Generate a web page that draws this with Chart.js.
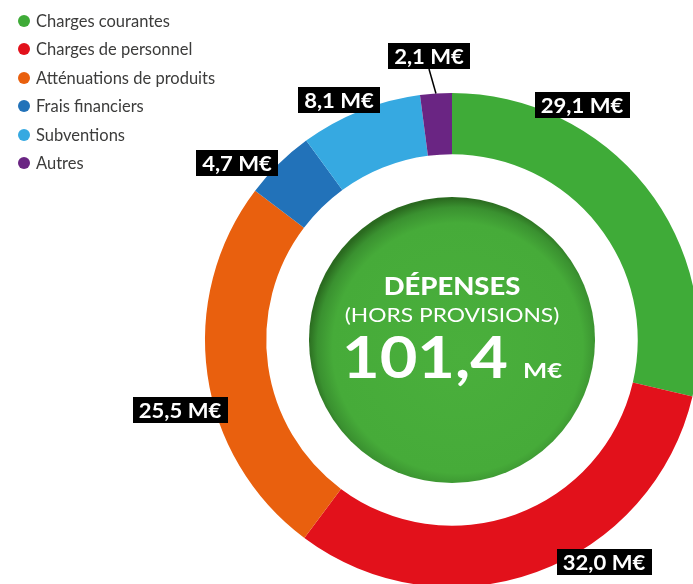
<!DOCTYPE html>
<html lang="fr">
<head>
<meta charset="utf-8">
<title>Dépenses (hors provisions)</title>
<script src="https://cdn.jsdelivr.net/npm/chart.js@4/dist/chart.umd.min.js"></script>
<style>
  html, body { margin: 0; padding: 0; background: #fff; }
  #stage { position: relative; width: 693px; height: 584px; overflow: hidden; }
  #chart-wrap { position: absolute; left: 0; top: 0; width: 710px; height: 600px; }
  #legend { position: absolute; left: 18px; top: 10px; margin: 0; padding: 0; list-style: none;
            font-family: Lato, "Open Sans", sans-serif; font-size: 16.5px; color: #3c3c3b; }
  #legend li { height: 28.4px; line-height: 22px; display: flex; align-items: flex-start; }
  #legend .dot { width: 12px; height: 12px; border-radius: 50%; margin: 5px 6px 0 0; flex: none; }
</style>
</head>
<body>
<div id="stage">
  <div id="chart-wrap"><canvas id="donut"></canvas></div>
  <ul id="legend"></ul>
</div>
<script>
// Data
const categories = ["Charges courantes", "Charges de personnel", "Atténuations de produits",
                    "Frais financiers", "Subventions", "Autres"];
const amounts = [29.1, 32.0, 25.5, 4.7, 8.1, 2.1];
const colors = ["#3fab38", "#e2111b", "#e9600e", "#2272b9", "#36a9e1", "#6a2583"];
const totalLabel = "101,4";
const centerTitle = "DÉPENSES";
const centerSub = "(HORS PROVISIONS)";

// label box offsets from chart centre (px), one per slice
const labelOffsets = [[130, -235], [152, 222], [-272, 70], [-215, -177], [-113, -240], [-23, -284]];
// slices that get a leader line to their arc
const leaderFor = [false, false, false, false, false, true];

function fmt(v) {
  return v.toFixed(1).replace(".", ",") + " M€";
}

// HTML legend
const legendEl = document.getElementById("legend");
categories.forEach((c, i) => {
  const li = document.createElement("li");
  li.innerHTML = `<span class="dot" style="background:${colors[i]}"></span><span>${c}</span>`;
  legendEl.appendChild(li);
});

// text a bit wider than Lato, to look like the rounded font of the original
function wideText(ctx, text, x, y, sx) {
  ctx.save();
  ctx.translate(x, y);
  ctx.scale(sx, 1);
  ctx.fillText(text, 0, 0);
  ctx.restore();
}

// centre disc + texts
const centerPlugin = {
  id: "centerDisc",
  afterDatasetsDraw(chart) {
    const arc = chart.getDatasetMeta(0).data[0];
    if (!arc) return;
    const ctx = chart.ctx;
    const cx = arc.x, cy = arc.y;
    const r = arc.innerRadius * 0.77;
    ctx.save();
    const g = ctx.createRadialGradient(cx + 10, cy + 14, 0, cx + 5, cy + 7, r + 6);
    g.addColorStop(0, "#4aaf3c");
    g.addColorStop(0.84, "#46ab39");
    g.addColorStop(0.94, "#3a9130");
    g.addColorStop(1, "#2a6a1f");
    ctx.fillStyle = g;
    ctx.beginPath();
    ctx.arc(cx, cy, r, 0, Math.PI * 2);
    ctx.fill();

    const sx = 1.14;
    ctx.fillStyle = "#fff";
    ctx.textAlign = "center";
    ctx.textBaseline = "alphabetic";
    ctx.font = "900 24px Lato, sans-serif";
    wideText(ctx, centerTitle, cx, cy - 45, sx);
    ctx.font = "20px Lato, sans-serif";
    wideText(ctx, centerSub, cx, cy - 18, sx);

    ctx.font = "bold 57px Lato, sans-serif";
    const bigW = ctx.measureText(totalLabel).width * sx;
    ctx.font = "bold 21px Lato, sans-serif";
    const smallW = ctx.measureText("M€").width * 1.22;
    const gap = 15;
    const startX = cx - (bigW + gap + smallW) / 2;
    ctx.textAlign = "left";
    ctx.font = "bold 57px Lato, sans-serif";
    wideText(ctx, totalLabel, startX, cy + 38, sx);
    ctx.font = "bold 21px Lato, sans-serif";
    wideText(ctx, "M€", startX + bigW + gap, cy + 38, 1.22);
    ctx.restore();
  }
};

// black value labels
const valueLabelPlugin = {
  id: "valueLabels",
  afterDraw(chart) {
    const meta = chart.getDatasetMeta(0);
    const ctx = chart.ctx;
    ctx.save();
    ctx.font = "bold 21px Lato, sans-serif";
    ctx.textAlign = "center";
    ctx.textBaseline = "middle";
    meta.data.forEach((arc, i) => {
      const text = fmt(amounts[i]);
      const lx = arc.x + labelOffsets[i][0];
      const ly = arc.y + labelOffsets[i][1];
      const w = ctx.measureText(text).width * 1.05 + 12;
      const h = 26;
      if (leaderFor[i]) {
        const mid = (arc.startAngle + arc.endAngle) / 2;
        ctx.strokeStyle = "#000";
        ctx.lineWidth = 1.5;
        ctx.beginPath();
        ctx.moveTo(lx, ly + h / 2);
        ctx.lineTo(arc.x + Math.cos(mid) * arc.outerRadius, arc.y + Math.sin(mid) * arc.outerRadius);
        ctx.stroke();
      }
      ctx.fillStyle = "#000";
      ctx.fillRect(Math.round(lx - w / 2), Math.round(ly - h / 2), Math.round(w), h);
      ctx.fillStyle = "#fff";
      wideText(ctx, text, lx, ly + 1, 1.05);
    });
    ctx.restore();
  }
};

new Chart(document.getElementById("donut"), {
  type: "doughnut",
  data: {
    labels: categories,
    datasets: [{
      data: amounts,
      backgroundColor: colors,
      borderWidth: 0
    }]
  },
  options: {
    responsive: true,
    maintainAspectRatio: false,
    animation: false,
    cutout: "75.2%",
    layout: { padding: { left: 205, top: 93, right: 11, bottom: 13 } },
    plugins: {
      legend: { display: false },
      tooltip: { enabled: false }
    }
  },
  plugins: [centerPlugin, valueLabelPlugin]
});
</script>
</body>
</html>
